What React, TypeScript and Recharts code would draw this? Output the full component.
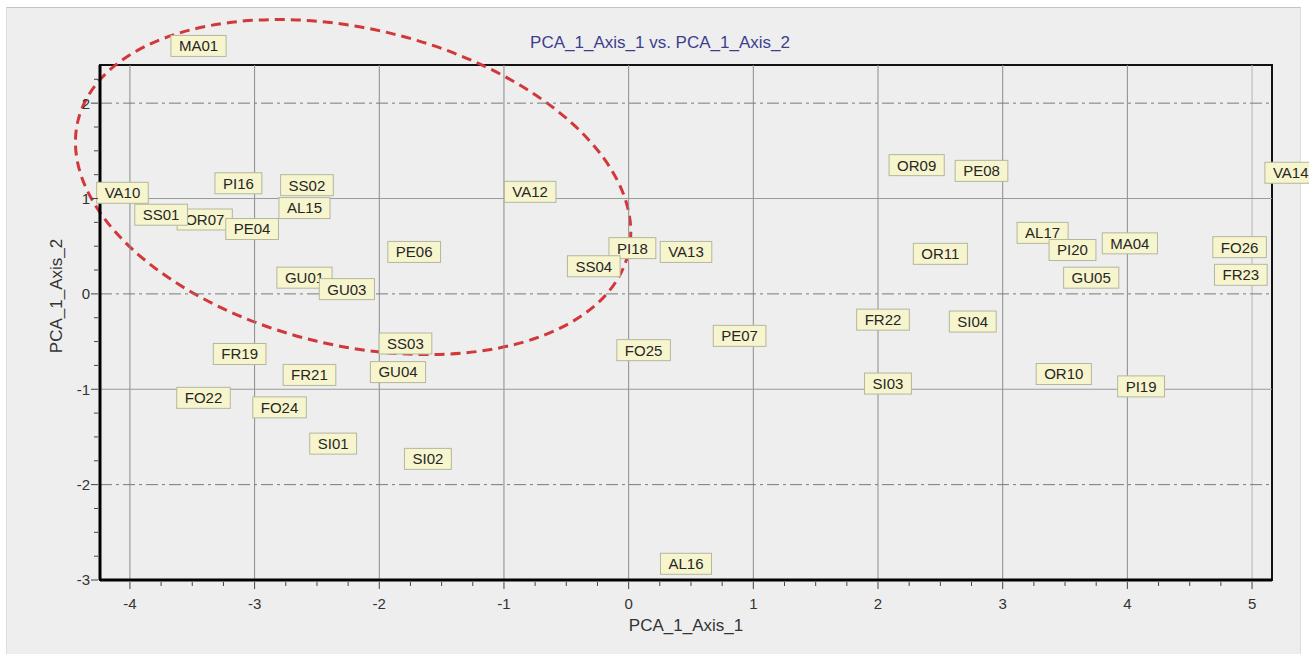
import { ScatterChart, Scatter, XAxis, YAxis, ReferenceLine, ReferenceArea, Label } from 'recharts';

const FONT = "'Liberation Sans', Arial, sans-serif";

// sample scores on the first two components
const SAMPLE_NAMES = [
  'MA01', 'VA10', 'OR07', 'SS01', 'PE04', 'PI16', 'SS02', 'AL15', 'PE06', 'GU01', 'GU03',
  'VA12', 'PI18', 'SS04', 'VA13', 'FO25', 'PE07', 'AL16',
  'OR09', 'PE08', 'OR11', 'FR22', 'SI04', 'SI03', 'AL17', 'PI20', 'MA04', 'GU05',
  'OR10', 'PI19', 'FO26', 'FR23', 'VA14',
  'FR19', 'FR21', 'SS03', 'GU04', 'FO22', 'FO24', 'SI01', 'SI02',
];
const PC1_SCORES = [
  -3.45, -4.06, -3.4, -3.75, -3.02, -3.13, -2.58, -2.6, -1.72, -2.6, -2.26,
  -0.79, 0.03, -0.28, 0.46, 0.12, 0.89, 0.46,
  2.31, 2.83, 2.5, 2.04, 2.76, 2.08, 3.32, 3.56, 4.02, 3.71,
  3.49, 4.11, 4.9, 4.91, 5.31,
  -3.12, -2.56, -1.79, -1.85, -3.41, -2.8, -2.37, -1.61,
];
const PC2_SCORES = [
  2.6, 1.06, 0.78, 0.83, 0.68, 1.16, 1.14, 0.9, 0.44, 0.17, 0.05,
  1.07, 0.48, 0.29, 0.44, -0.59, -0.44, -2.83,
  1.35, 1.29, 0.42, -0.27, -0.29, -0.94, 0.64, 0.46, 0.53, 0.17,
  -0.84, -0.97, 0.49, 0.2, 1.27,
  -0.63, -0.85, -0.52, -0.82, -1.09, -1.19, -1.57, -1.73,
];

const X_MAJOR = [-4, -3, -2, -1, 0, 1, 2, 3, 4, 5];
const Y_MAJOR = [-2, -1, 0, 1, 2];
const X_DOMAIN: [number, number] = [-4.24, 5.16];
const Y_DOMAIN: [number, number] = [-3, 2.4];
const MINOR_STEP = 0.25;

// hand-drawn group outline, in score units
const GROUP_CENTER = { x: -2.21, y: 1.12 };
const GROUP_RADIUS = { x: 2.27, y: 1.66 };
const GROUP_TILT = 13.5;

const samples = SAMPLE_NAMES.map((name, i) => ({ name, x: PC1_SCORES[i], y: PC2_SCORES[i] }));

const stepTicks = ([lo, hi]: [number, number]) => {
  const out: number[] = [];
  for (let k = Math.ceil(lo / MINOR_STEP); k * MINOR_STEP <= hi; k++) out.push(k * MINOR_STEP);
  return out;
};

let ctx: CanvasRenderingContext2D | null = null;
const textWidth = (s: string) => {
  if (!ctx) ctx = document.createElement('canvas').getContext('2d');
  if (!ctx) return s.length * 9;
  ctx.font = `15px ${FONT}`;
  return ctx.measureText(s).width;
};

const XTick = ({ x, y, payload }: any) => {
  const major = Number.isInteger(payload.value);
  return (
    <g>
      <line x1={x} x2={x} y1={y + 2} y2={y + (major ? 9 : 6)} stroke="#444" />
      {major && (
        <text x={x} y={y + 29} textAnchor="middle" fontSize={15} fill="#333" fontFamily={FONT}>
          {payload.value}
        </text>
      )}
    </g>
  );
};

const YTick = ({ x, y, payload }: any) => {
  const major = Number.isInteger(payload.value);
  return (
    <g>
      <line x1={x - 2} x2={x - (major ? 9 : 6)} y1={y} y2={y} stroke="#444" />
      {major && (
        <text x={x - 10} y={y} dy="0.36em" textAnchor="end" fontSize={15} fill="#333" fontFamily={FONT}>
          {payload.value}
        </text>
      )}
    </g>
  );
};

const SampleTag = ({ cx, cy, payload }: any) => {
  const w = textWidth(payload.name) + 16;
  const h = 21;
  return (
    <g>
      <rect x={cx - w / 2} y={cy - h / 2} width={w} height={h} fill="#f7f5cd" stroke="#b3b79f" />
      <text x={cx} y={cy} dy="0.36em" textAnchor="middle" fontSize={15} fill="#262626" fontFamily={FONT}>
        {payload.name}
      </text>
    </g>
  );
};

const GroupOutline = ({ x, y, width, height }: any) => {
  const cx = x + width / 2;
  const cy = y + height / 2;
  return (
    <ellipse
      cx={cx}
      cy={cy}
      rx={Math.abs(width) / 2}
      ry={Math.abs(height) / 2}
      transform={`rotate(${GROUP_TILT} ${cx} ${cy})`}
      fill="none"
      stroke="#d2373a"
      strokeWidth={3}
      strokeDasharray="10 6"
    />
  );
};

export default function App() {
  return (
    <div style={{ position: 'absolute', left: 0, top: 0, width: 1309, height: 657, background: '#fff', fontFamily: FONT }}>
      <style>{'.recharts-scatter, .recharts-scatter * { clip-path: none !important; }'}</style>
      <div
        style={{
          position: 'absolute',
          left: 6,
          top: 7,
          width: 1293,
          height: 646,
          background: '#eeeeee',
          borderTop: '1px solid #c4c4c4',
          borderLeft: '1px solid #dcdcdc',
          borderRight: '1px solid #dcdcdc',
        }}
      />
      <div style={{ position: 'absolute', left: 460, top: 33, width: 400, textAlign: 'center', fontSize: 17, lineHeight: '20px', color: '#3c3f8e' }}>
        PCA_1_Axis_1 vs. PCA_1_Axis_2
      </div>
      <div
        style={{
          position: 'absolute',
          left: -43,
          top: 286,
          width: 200,
          height: 20,
          lineHeight: '20px',
          textAlign: 'center',
          fontSize: 17,
          color: '#333',
          transform: 'rotate(-90deg)',
        }}
      >
        PCA_1_Axis_2
      </div>
      <div style={{ position: 'absolute', left: 0, top: 0 }}>
        <ScatterChart width={1309} height={657} margin={{ top: 65, right: 37, bottom: 22, left: 55 }}>
          <XAxis
            type="number"
            dataKey="x"
            domain={X_DOMAIN}
            allowDataOverflow
            ticks={stepTicks(X_DOMAIN)}
            interval={0}
            height={55}
            tickSize={0}
            tickMargin={0}
            tickLine={false}
            axisLine={{ stroke: '#000', strokeWidth: 3 }}
            tick={(p: any) => <XTick {...p} />}
          >
            <Label value="PCA_1_Axis_1" position="insideBottom" offset={4} fill="#333" fontSize={17} />
          </XAxis>
          <YAxis
            type="number"
            dataKey="y"
            domain={Y_DOMAIN}
            allowDataOverflow
            ticks={stepTicks(Y_DOMAIN)}
            interval={0}
            width={45}
            tickSize={0}
            tickMargin={0}
            tickLine={false}
            axisLine={{ stroke: '#000', strokeWidth: 3 }}
            tick={(p: any) => <YTick {...p} />}
          />
          {X_MAJOR.map((v) => (
            <ReferenceLine key={`gx${v}`} x={v} stroke={v === 5 ? '#b5b5b5' : '#8c8c8c'} strokeWidth={1} />
          ))}
          {Y_MAJOR.map((v) => (
            <ReferenceLine
              key={`gy${v}`}
              y={v}
              stroke={v % 2 === 0 ? '#7a7a7a' : '#9a9a9a'}
              strokeWidth={1}
              strokeDasharray={v % 2 === 0 ? '12 4 3 4' : undefined}
            />
          ))}
          <ReferenceArea
            x1={X_DOMAIN[0]}
            x2={X_DOMAIN[1]}
            y1={Y_DOMAIN[0]}
            y2={Y_DOMAIN[1]}
            fill="none"
            stroke="#111"
            strokeWidth={2}
          />
          <Scatter data={samples} shape={(p: any) => <SampleTag {...p} />} isAnimationActive={false} />
          <ReferenceArea
            x1={GROUP_CENTER.x - GROUP_RADIUS.x}
            x2={GROUP_CENTER.x + GROUP_RADIUS.x}
            y1={GROUP_CENTER.y - GROUP_RADIUS.y}
            y2={GROUP_CENTER.y + GROUP_RADIUS.y}
            ifOverflow="visible"
            shape={(p: any) => <GroupOutline {...p} />}
          />
        </ScatterChart>
      </div>
    </div>
  );
}
